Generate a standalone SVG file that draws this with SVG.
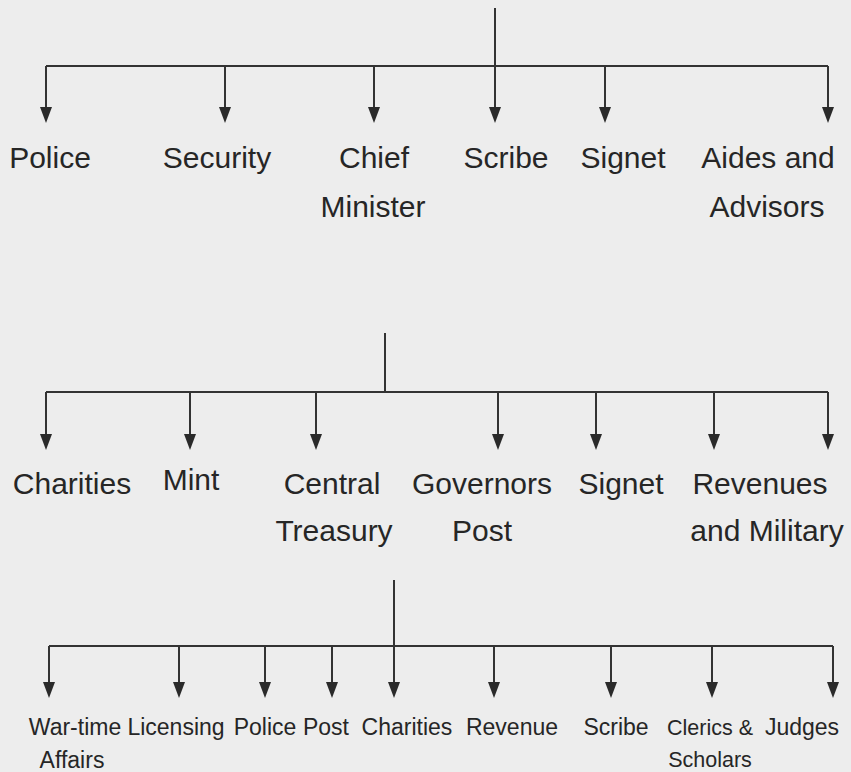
<svg xmlns="http://www.w3.org/2000/svg" width="851" height="772" viewBox="0 0 851 772">
<defs>
<style>
.bg{fill:#ededed}
.ln{stroke:#333;stroke-width:2;fill:none}
.ar{stroke:#333;stroke-width:2;fill:none;marker-end:url(#ah)}
.t{font-family:"Liberation Sans",Arial,sans-serif;font-size:30px;fill:#262626;text-anchor:middle}
.s{font-family:"Liberation Sans",Arial,sans-serif;font-size:23px;fill:#262626;text-anchor:middle}
</style>
<marker id="ah" markerUnits="userSpaceOnUse" viewBox="0 0 16 12" refX="8" refY="6" markerWidth="16" markerHeight="12" orient="auto">
<path d="M0,0 L16,6 L0,12 z" fill="#2a2a2a"/>
</marker>
</defs>
<rect class="bg" x="0" y="0" width="851" height="772"/>
<g id="connectors">
<line class="ln" x1="495" y1="8" x2="495" y2="66"/>
<line class="ln" x1="46" y1="66" x2="828" y2="66"/>
<line class="ar" x1="46" y1="66" x2="46" y2="115"/>
<line class="ar" x1="225" y1="66" x2="225" y2="115"/>
<line class="ar" x1="374" y1="66" x2="374" y2="115"/>
<line class="ar" x1="495" y1="66" x2="495" y2="115"/>
<line class="ar" x1="605" y1="66" x2="605" y2="115"/>
<line class="ar" x1="828" y1="66" x2="828" y2="115"/>
<line class="ln" x1="385" y1="333" x2="385" y2="392"/>
<line class="ln" x1="46" y1="392" x2="828" y2="392"/>
<line class="ar" x1="46" y1="392" x2="46" y2="442"/>
<line class="ar" x1="190" y1="392" x2="190" y2="442"/>
<line class="ar" x1="316" y1="392" x2="316" y2="442"/>
<line class="ar" x1="498" y1="392" x2="498" y2="442"/>
<line class="ar" x1="596" y1="392" x2="596" y2="442"/>
<line class="ar" x1="714" y1="392" x2="714" y2="442"/>
<line class="ar" x1="828" y1="392" x2="828" y2="442"/>
<line class="ln" x1="394" y1="580" x2="394" y2="646"/>
<line class="ln" x1="49" y1="646" x2="833" y2="646"/>
<line class="ar" x1="49" y1="646" x2="49" y2="690"/>
<line class="ar" x1="179" y1="646" x2="179" y2="690"/>
<line class="ar" x1="265" y1="646" x2="265" y2="690"/>
<line class="ar" x1="332" y1="646" x2="332" y2="690"/>
<line class="ar" x1="394" y1="646" x2="394" y2="690"/>
<line class="ar" x1="494" y1="646" x2="494" y2="690"/>
<line class="ar" x1="611" y1="646" x2="611" y2="690"/>
<line class="ar" x1="712" y1="646" x2="712" y2="690"/>
<line class="ar" x1="833" y1="646" x2="833" y2="690"/>
</g>
<g id="police"><text class="t" x="50" y="168">Police</text></g>
<g id="security"><text class="t" x="217" y="168">Security</text></g>
<g id="chief-minister"><text class="t" x="374" y="168">Chief</text><text class="t" x="373" y="217">Minister</text></g>
<g id="scribe"><text class="t" x="506" y="168">Scribe</text></g>
<g id="signet"><text class="t" x="623" y="168">Signet</text></g>
<g id="aides"><text class="t" x="768" y="168">Aides and</text><text class="t" x="767" y="217">Advisors</text></g>
<g id="charities"><text class="t" x="72" y="494">Charities</text></g>
<g id="mint"><text class="t" x="191" y="490">Mint</text></g>
<g id="central-treasury"><text class="t" x="332" y="494">Central</text><text class="t" x="334" y="541">Treasury</text></g>
<g id="governors-post"><text class="t" x="482" y="494">Governors</text><text class="t" x="482" y="541">Post</text></g>
<g id="signet2"><text class="t" x="621" y="494">Signet</text></g>
<g id="revenues"><text class="t" x="760" y="494">Revenues</text><text class="t" x="767" y="541">and Military</text></g>
<g id="wartime"><text class="s" x="75" y="735">War-time</text><text class="s" x="72" y="768">Affairs</text></g>
<g id="licensing"><text class="s" x="176" y="735">Licensing</text></g>
<g id="police2"><text class="s" x="265" y="735">Police</text></g>
<g id="post"><text class="s" x="326" y="735">Post</text></g>
<g id="charities2"><text class="s" x="407" y="735">Charities</text></g>
<g id="revenue"><text class="s" x="512" y="735">Revenue</text></g>
<g id="scribe2"><text class="s" x="616" y="735">Scribe</text></g>
<g id="clerics"><text class="s" x="710" y="735" style="font-size:21.5px">Clerics &amp;</text><text class="s" x="710" y="767" style="font-size:21.5px">Scholars</text></g>
<g id="judges"><text class="s" x="802" y="735">Judges</text></g>
</svg>
